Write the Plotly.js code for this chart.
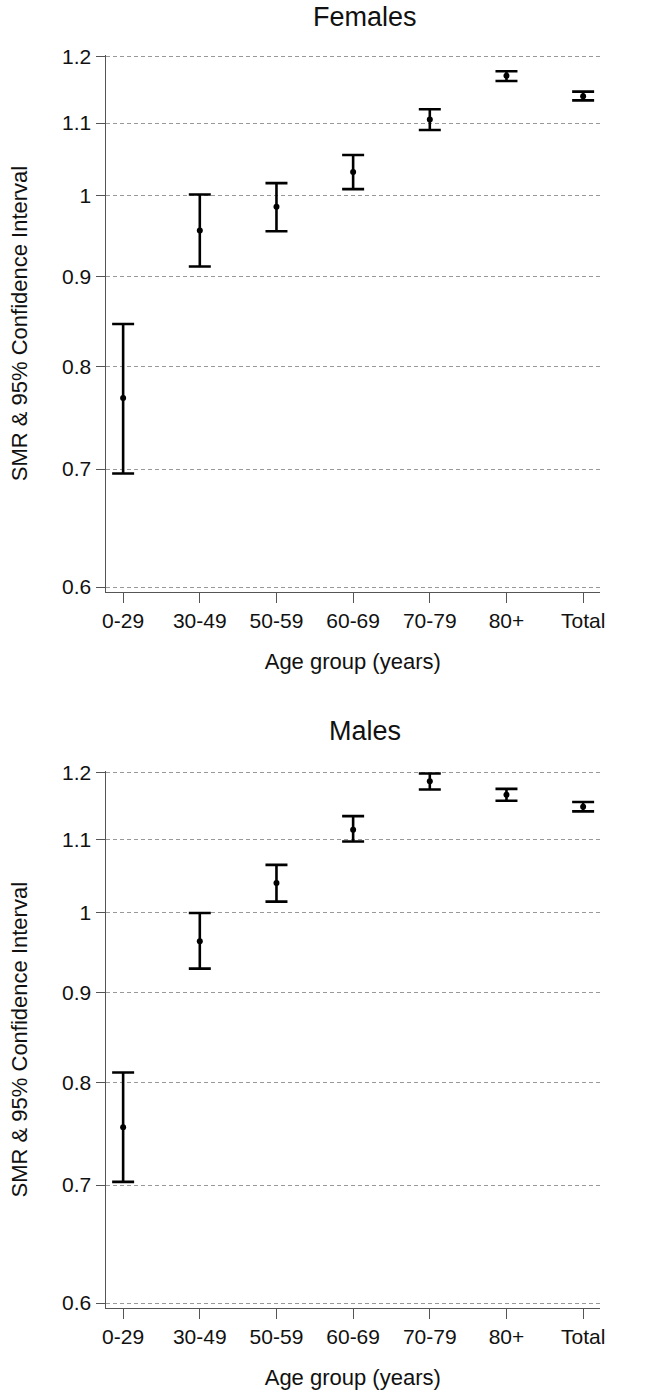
<!DOCTYPE html>
<html>
<head>
<meta charset="utf-8">
<script src="https://cdn.plot.ly/plotly-3.0.1.min.js"></script>
<style>
html,body{margin:0;padding:0;background:#fff;}
#chart{width:645px;height:1393px;}
</style>
</head>
<body>
<div id="chart"></div>
<script>
// ---- data ----
const ageGroups = ["0-29", "30-49", "50-59", "60-69", "70-79", "80+", "Total"];

const femaleSMR   = [0.768, 0.956, 0.986, 1.032, 1.105, 1.170, 1.139];
const femaleLower = [0.696, 0.912, 0.955, 1.009, 1.090, 1.162, 1.133];
const femaleUpper = [0.846, 1.002, 1.017, 1.055, 1.120, 1.177, 1.146];

const maleSMR   = [0.755, 0.963, 1.039, 1.114, 1.187, 1.166, 1.148];
const maleLower = [0.703, 0.929, 1.014, 1.097, 1.174, 1.157, 1.141];
const maleUpper = [0.811, 0.999, 1.064, 1.134, 1.199, 1.175, 1.155];

const yTickVals = [0.6, 0.7, 0.8, 0.9, 1.0, 1.1, 1.2];
const yTickText = ["0.6", "0.7", "0.8", "0.9", "1", "1.1", "1.2"];
const referenceSMR = 1;

const panelTitles = ["Females", "Males"];
const xTitle = "Age group (years)";
const yTitle = "SMR & 95% Confidence Interval";

// ---- build ----
const FONT = "Liberation Sans, Arial, Helvetica, sans-serif";
function diff(a, b) { return a.map((v, i) => v - b[i]); }

function makeTrace(smr, lo, hi, xa, ya) {
  return {
    type: "scatter", mode: "markers",
    x: ageGroups, y: smr, xaxis: xa, yaxis: ya,
    marker: {color: "#000", size: 6},
    error_y: {
      type: "data", symmetric: false,
      array: diff(hi, smr), arrayminus: diff(smr, lo),
      color: "#000", thickness: 2.6, width: 11
    },
    showlegend: false, hoverinfo: "x+y"
  };
}

const H = 1393;
const yRange = [Math.log10(0.6) - 0.0028, Math.log10(1.2) + 0.0008];

function xAxis(anchor, title) {
  return {
    type: "category", anchor: anchor,
    domain: [105.5 / 645, 600 / 645],
    range: [-0.23, 6.22],
    showgrid: false, zeroline: false,
    showline: true, linecolor: "#555", linewidth: 1,
    ticks: "outside", ticklen: 10, tickcolor: "#555", tickwidth: 1,
    tickfont: {family: FONT, size: 21, color: "#111"},
    title: {text: title, font: {family: FONT, size: 22, color: "#111"}, standoff: 22},
    fixedrange: true
  };
}
function yAxis(anchor, top, bottom, title) {
  return {
    type: "log", anchor: anchor,
    domain: [1 - bottom / H, 1 - top / H],
    range: yRange,
    tickvals: yTickVals, ticktext: yTickText,
    showgrid: true, gridcolor: "#999", gridwidth: 1, griddash: "4px,3px",
    zeroline: false,
    showline: true, linecolor: "#555", linewidth: 1,
    ticks: "outside", ticklen: 9, tickcolor: "#555", tickwidth: 1,
    tickfont: {family: FONT, size: 21, color: "#111"},
    title: {text: title, font: {family: FONT, size: 22, color: "#111"}, standoff: 28},
    fixedrange: true
  };
}

const data = [
  makeTrace(femaleSMR, femaleLower, femaleUpper, "x", "y"),
  makeTrace(maleSMR, maleLower, maleUpper, "x2", "y2")
];

const layout = {
  width: 645, height: H,
  margin: {l: 0, r: 0, t: 0, b: 0},
  paper_bgcolor: "#fff", plot_bgcolor: "#fff",
  xaxis: xAxis("y", xTitle),
  yaxis: yAxis("x", 55, 592, yTitle),
  xaxis2: xAxis("y2", xTitle),
  yaxis2: yAxis("x2", 771.4, 1308, yTitle),
  shapes: [
    {type: "line", xref: "x domain", yref: "y", x0: 0, x1: 1,
     y0: Math.log10(referenceSMR), y1: Math.log10(referenceSMR),
     line: {color: "#333", width: 1.2}, layer: "below"},
    {type: "line", xref: "x2 domain", yref: "y2", x0: 0, x1: 1,
     y0: Math.log10(referenceSMR), y1: Math.log10(referenceSMR),
     line: {color: "#333", width: 1.2}, layer: "below"}
  ],
  annotations: [
    {text: panelTitles[0], xref: "paper", yref: "paper", x: 365 / 645, y: 1 - 17 / H,
     xanchor: "center", yanchor: "middle", showarrow: false,
     font: {family: FONT, size: 27, color: "#111"}},
    {text: panelTitles[1], xref: "paper", yref: "paper", x: 365 / 645, y: 1 - 731 / H,
     xanchor: "center", yanchor: "middle", showarrow: false,
     font: {family: FONT, size: 27, color: "#111"}}
  ]
};

Plotly.newPlot("chart", data, layout, {displayModeBar: false, staticPlot: true});
</script>
</body>
</html>
